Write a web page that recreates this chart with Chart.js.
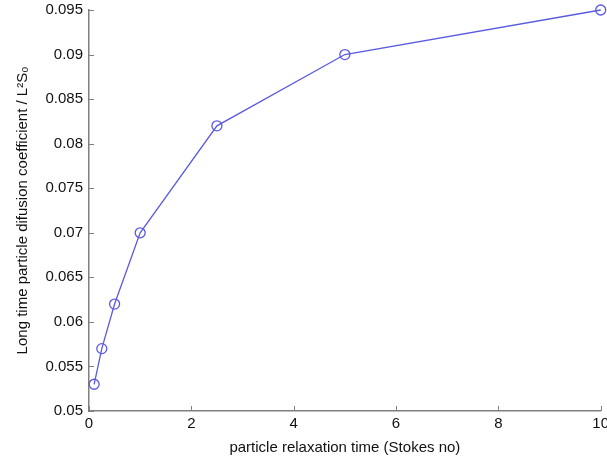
<!DOCTYPE html>
<html><head><meta charset="utf-8">
<script src="https://cdn.jsdelivr.net/npm/chart.js@4/dist/chart.umd.min.js"></script>
<style>html,body{margin:0;padding:0;background:#fff}#c{display:block}</style>
</head><body>
<canvas id="c" width="607" height="459"></canvas>
<script>
const stokesNo = [0.1, 0.25, 0.5, 1, 2.5, 5, 10];
const diffusionCoeff = [0.053, 0.057, 0.062, 0.070, 0.082, 0.090, 0.095];
const xTicks = [0, 2, 4, 6, 8, 10];
const yTicks = [0.05, 0.055, 0.06, 0.065, 0.07, 0.075, 0.08, 0.085, 0.09, 0.095];
const xTitle = 'particle relaxation time (Stokes no)';
const yTitle = 'Long time particle difusion coefficient / L\u00B2S\u2080';

const axisColor = '#808080';
const font = {family: "'Liberation Sans', Arial, sans-serif", size: 15};

const innerTicks = {
  id: 'innerTicks',
  afterDraw(chart) {
    const {ctx, chartArea: a, scales: {x, y}} = chart;
    ctx.save();
    ctx.strokeStyle = axisColor;
    ctx.lineWidth = 1;
    ctx.beginPath();
    xTicks.forEach(v => {
      const px = Math.round(x.getPixelForValue(v)) + 0.5;
      ctx.moveTo(px, a.bottom); ctx.lineTo(px, a.bottom - 5);
    });
    yTicks.forEach(v => {
      const py = Math.round(y.getPixelForValue(v)) + 0.5;
      ctx.moveTo(a.left, py); ctx.lineTo(a.left + 5, py);
    });
    ctx.stroke();
    ctx.restore();
  }
};

new Chart(document.getElementById('c'), {
  type: 'line',
  data: {
    datasets: [{
      data: stokesNo.map((s, i) => ({x: s, y: diffusionCoeff[i]})),
      borderColor: '#5a5ae0',
      borderWidth: 1.3,
      pointStyle: 'circle',
      pointRadius: 5,
      pointBorderWidth: 1.3,
      pointBackgroundColor: 'rgba(0,0,0,0)',
      pointBorderColor: '#5a5ae0',
      tension: 0,
      fill: false,
      clip: false
    }]
  },
  options: {
    responsive: false,
    animation: false,
    devicePixelRatio: 1,
    layout: {padding: {top: 10, right: 4, left: 0, bottom: 0}},
    plugins: {legend: {display: false}, tooltip: {enabled: false}},
    scales: {
      x: {
        type: 'linear', min: 0, max: 10,
        afterBuildTicks: s => { s.ticks = xTicks.map(v => ({value: v})); },
        afterFit: s => { s.height = 48; s.paddingLeft = 0; s.paddingRight = 0; },
        ticks: {color: '#111', font, padding: 4, callback: v => String(v), maxRotation: 0, autoSkip: false},
        grid: {display: true, drawOnChartArea: false, drawTicks: false, color: axisColor},
        border: {display: true, color: axisColor, width: 1.5},
        title: {display: true, text: xTitle, color: '#111', font, padding: {top: 0, bottom: 2}}
      },
      y: {
        type: 'linear', min: 0.05, max: 0.095,
        afterBuildTicks: s => { s.ticks = yTicks.map(v => ({value: v})); },
        afterFit: s => { s.width = 89; s.paddingTop = 0; s.paddingBottom = 0; },
        ticks: {color: '#111', font, padding: 6, callback: v => String(+v.toFixed(3)), autoSkip: false},
        grid: {display: true, drawOnChartArea: false, drawTicks: false, color: axisColor},
        border: {display: true, color: axisColor, width: 1.5},
        title: {display: true, text: yTitle, color: '#111', font, padding: {top: 14, bottom: 0}}
      }
    }
  },
  plugins: [innerTicks]
});
</script>
</body></html>
